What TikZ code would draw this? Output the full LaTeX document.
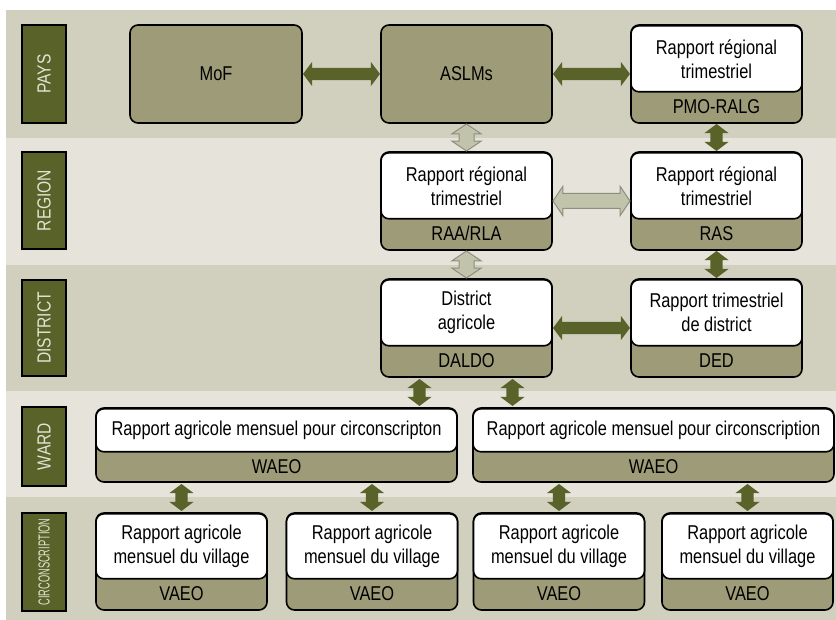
\documentclass[tikz,border=0pt]{standalone}
\usepackage{fontspec}
\setmainfont[FakeStretch=0.82]{Liberation Sans}
\newfontfamily\tightfont[FakeStretch=0.58]{Liberation Sans}
\usepackage{tikz}
\usetikzlibrary{positioning}
\usetikzlibrary{shapes.arrows}
\definecolor{banddark}{RGB}{209,208,191}
\definecolor{bandlight}{RGB}{229,227,218}
\definecolor{olivedark}{RGB}{89,98,40}
\definecolor{olivebox}{RGB}{158,156,120}
\definecolor{labeltext}{RGB}{226,227,212}
\definecolor{palefill}{RGB}{193,196,171}
\definecolor{paleline}{RGB}{140,143,125}

\begin{document}
\begin{tikzpicture}[x=1pt, y=1pt,
    level/.style={draw=black, line width=1.6pt, fill=olivedark, text=labeltext,
      rotate=90, minimum height=44pt, inner sep=0pt, font=\fontsize{19}{21}\selectfont},
    orgbox/.style={draw=black, line width=1.6pt, rounded corners=8pt, fill=olivebox,
      minimum width=171pt, minimum height=98pt, inner sep=0pt, outer sep=0pt,
      font=\fontsize{20}{24}\selectfont},
    topbox/.style={draw=black, line width=1.6pt, rounded corners=8pt, fill=white,
      minimum width=171pt, minimum height=66pt, inner sep=0pt, anchor=north,
      align=center, font=\fontsize{20}{24}\selectfont},
    role/.style={inner sep=0pt, font=\fontsize{20}{24}\selectfont},
    darklink/.style={double arrow, fill=olivedark, sloped, inner sep=6pt,
      double arrow head extend=6pt, double arrow tip angle=106,
      minimum width=24pt, minimum height=77pt},
    palelink/.style={double arrow, fill=palefill, draw=paleline, line width=1pt,
      sloped, inner sep=7pt, double arrow head extend=7pt,
      double arrow tip angle=112, minimum width=28pt, minimum height=77pt},
    short/.style={minimum height=27pt}
  ]
  \useasboundingbox (0,0) rectangle (836,620);

  % bands
  \fill[banddark] (6,610) rectangle (836,482);
  \fill[bandlight] (6,482) rectangle (836,355);
  \fill[banddark] (6,355) rectangle (836,229);
  \fill[bandlight] (6,229) rectangle (836,123);
  \fill[banddark] (6,123) rectangle (836,0);

  % levels
  \node[level, minimum width=98pt] (pays) at (44,546) {PAYS};
  \node[level, minimum width=97pt] (region) at (44,419.5) {REGION};
  \node[level, minimum width=96pt] (district) at (44,292) {DISTRICT};
  \node[level, minimum width=79pt] (ward) at (44,173.5) {WARD};
  \node[level, minimum width=98pt, font=\tightfont\fontsize{16}{18}\selectfont]
    (circ) at (44,58) {CIRCONSCRIPTION};

  % pays
  \node[orgbox, minimum width=172pt] (mof) at (216,546) {MoF};
  \node[orgbox, right=79pt of mof] (aslm) {ASLMs};
  \node[orgbox, right=79pt of aslm] (pmo) {};
  \node[topbox] (pmo-t) at (pmo.north) {Rapport régional\\trimestriel};
  \node[role] (pmo-r) at ([yshift=16.5pt]pmo.south) {PMO-RALG};

  % region
  \node[orgbox, below=29pt of aslm] (raa) {};
  \node[topbox] (raa-t) at (raa.north) {Rapport régional\\trimestriel};
  \node[role] (raa-r) at ([yshift=16.5pt]raa.south) {RAA/RLA};
  \node[orgbox, below=29pt of pmo] (ras) {};
  \node[topbox] (ras-t) at (ras.north) {Rapport régional\\trimestriel};
  \node[role] (ras-r) at ([yshift=16.5pt]ras.south) {RAS};

  % district
  \node[orgbox, below=29pt of raa] (daldo) {};
  \node[topbox] (daldo-t) at (daldo.north) {District\\agricole};
  \node[role] (daldo-r) at ([yshift=16.5pt]daldo.south) {DALDO};
  \node[orgbox, below=29pt of ras] (ded) {};
  \node[topbox] (ded-t) at (ded.north) {Rapport trimestriel\\de district};
  \node[role] (ded-r) at ([yshift=16.5pt]ded.south) {DED};

  % ward
  \node[orgbox, minimum width=361pt, minimum height=74pt] (wardl) at (276.5,175) {};
  \node[topbox, minimum width=361pt, minimum height=43pt] (wardl-t) at (wardl.north)
    {Rapport agricole mensuel pour circonscripton};
  \node[role] (wardl-r) at ([yshift=15.5pt]wardl.south) {WAEO};
  \node[orgbox, minimum width=361pt, minimum height=74pt] (wardr) at (653.5,175) {};
  \node[topbox, minimum width=361pt, minimum height=43pt] (wardr-t) at (wardr.north)
    {Rapport agricole mensuel pour circonscription};
  \node[role] (wardr-r) at ([yshift=15.5pt]wardr.south) {WAEO};

  % villages
  \node[orgbox, minimum height=97pt] (vil1) at (181.5,58.5) {};
  \node[topbox, minimum height=65pt] (vil1-t) at (vil1.north) {Rapport agricole\\mensuel du village};
  \node[role] (vil1-r) at ([yshift=16pt]vil1.south) {VAEO};
  \node[orgbox, minimum height=97pt] (vil2) at (372,58.5) {};
  \node[topbox, minimum height=65pt] (vil2-t) at (vil2.north) {Rapport agricole\\mensuel du village};
  \node[role] (vil2-r) at ([yshift=16pt]vil2.south) {VAEO};
  \node[orgbox, minimum height=97pt] (vil3) at (559,58.5) {};
  \node[topbox, minimum height=65pt] (vil3-t) at (vil3.north) {Rapport agricole\\mensuel du village};
  \node[role] (vil3-r) at ([yshift=16pt]vil3.south) {VAEO};
  \node[orgbox, minimum height=97pt] (vil4) at (747.5,58.5) {};
  \node[topbox, minimum height=65pt] (vil4-t) at (vil4.north) {Rapport agricole\\mensuel du village};
  \node[role] (vil4-r) at ([yshift=16pt]vil4.south) {VAEO};

  % links
  \path (mof) -- node[darklink] (l1) {} (aslm);
  \path (aslm) -- node[darklink] (l2) {} (pmo);
  \path (aslm) -- node[palelink, short] (l3) {} (raa);
  \path (pmo) -- node[darklink, short] (l4) {} (ras);
  \path (raa) -- node[palelink] (l5) {} (ras);
  \path (raa) -- node[palelink, short] (l6) {} (daldo);
  \path (ras) -- node[darklink, short] (l7) {} (ded);
  \path (daldo) -- node[darklink] (l8) {} (ded);
  \path ([xshift=-47pt]daldo.south) -- node[darklink, short] (l9) {}
    ([xshift=-47pt]daldo.south |- wardl.north);
  \path ([xshift=46pt]daldo.south) -- node[darklink, short] (l10) {}
    ([xshift=46pt]daldo.south |- wardr.north);
  \path (vil1.north) -- node[darklink, short] (l11) {} (vil1.north |- wardl.south);
  \path (vil2.north) -- node[darklink, short] (l12) {} (vil2.north |- wardl.south);
  \path (vil3.north) -- node[darklink, short] (l13) {} (vil3.north |- wardr.south);
  \path (vil4.north) -- node[darklink, short] (l14) {} (vil4.north |- wardr.south);
\end{tikzpicture}
\end{document}
